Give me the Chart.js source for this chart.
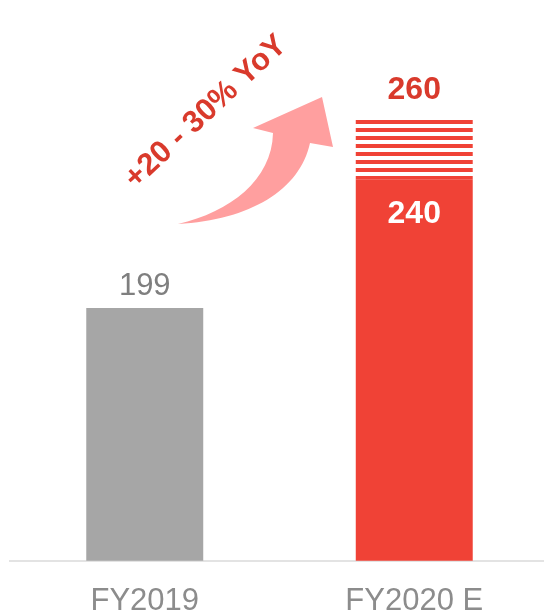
<!DOCTYPE html>
<html>
<head>
<meta charset="utf-8">
<script src="https://cdn.jsdelivr.net/npm/chart.js@4"></script>
<style>
    html, body { margin: 0; padding: 0; background: #fff; overflow: hidden; }
</style>
</head>
<body>
<canvas id="fy_chart" width="549" height="643"></canvas>
<script>
// data
var categories = ["FY2019", "FY2020 E"];
var baseValues = [199, 240];     // solid part of the bar
var upsideValues = [null, 20];   // striped part, 240 -> 260
var growthText = "+20 - 30% YoY";

Chart.defaults.font.family = "'Liberation Sans', Arial, sans-serif";

function stripePattern(color) {
    var tile = document.createElement("canvas");
    tile.width = 8;
    tile.height = 8;
    var tctx = tile.getContext("2d");
    tctx.fillStyle = color;
    tctx.fillRect(0, 0, 8, 4);
    return tctx.createPattern(tile, "repeat");
}

// growth arrow + rotated text
var arrowPlugin = {
    id: "growthArrow",
    beforeDatasetsDraw: function(chart) {
        var ctx = chart.ctx;
        var ox = chart.chartArea.left - 10;
        var oy = chart.chartArea.top - 30;
        ctx.save();
        ctx.translate(ox, oy);
        ctx.fillStyle = "#ff9f9f";
        ctx.beginPath();
        ctx.moveTo(178, 224);
        ctx.bezierCurveTo(230, 212, 272, 180, 273, 133);
        ctx.lineTo(253, 128);
        ctx.lineTo(322, 97);
        ctx.lineTo(333, 147);
        ctx.lineTo(310, 143);
        ctx.bezierCurveTo(300, 190, 250, 220, 178, 224);
        ctx.closePath();
        ctx.fill();

        ctx.translate(206, 112);
        ctx.rotate(-43 * Math.PI / 180);
        ctx.font = "bold 31px 'Liberation Sans', Arial, sans-serif";
        ctx.fillStyle = "#d93a2c";
        ctx.textAlign = "center";
        ctx.textBaseline = "middle";
        ctx.fillText(growthText, 0, 0);
        ctx.restore();
    }
};

// value labels on the bars
var labelPlugin = {
    id: "barLabels",
    afterDatasetsDraw: function(chart) {
        var ctx = chart.ctx;
        var solid = chart.getDatasetMeta(0).data;
        var upper = chart.getDatasetMeta(1).data;
        ctx.save();
        ctx.textAlign = "center";
        ctx.textBaseline = "alphabetic";

        ctx.font = "31px 'Liberation Sans', Arial, sans-serif";
        ctx.fillStyle = "#7f7f7f";
        ctx.fillText(String(baseValues[0]), solid[0].x, solid[0].y - 13);

        ctx.font = "bold 32px 'Liberation Sans', Arial, sans-serif";
        ctx.fillStyle = "#ffffff";
        ctx.fillText(String(baseValues[1]), solid[1].x, solid[1].y + 43);

        ctx.fillStyle = "#d93a2c";
        ctx.fillText(String(baseValues[1] + upsideValues[1]), upper[1].x, upper[1].y - 18);
        ctx.restore();
    }
};

new Chart("fy_chart", {
    type: "bar",
    data: {
        labels: categories,
        datasets: [{
                data: baseValues,
                backgroundColor: ["#a6a6a6", "#f04236"],
                borderWidth: 0,
                barPercentage: 0.434,
                categoryPercentage: 1.0,
            },
            {
                data: upsideValues,
                backgroundColor: stripePattern("#f04236"),
                borderWidth: 0,
                barPercentage: 0.434,
                categoryPercentage: 1.0,
            }
        ]
    },
    options: {
        responsive: false,
        animation: false,
        layout: {
            padding: { left: 10, right: 0, top: 30, bottom: 1 }
        },
        plugins: {
            legend: { display: false },
            tooltip: { enabled: false }
        },
        scales: {
            x: {
                stacked: true,
                grid: { display: false, drawTicks: false },
                border: { color: "#e3e3e3", width: 2 },
                ticks: {
                    color: "#8c8c8c",
                    font: { size: 31 },
                    padding: 22
                }
            },
            y: {
                stacked: true,
                display: false,
                min: 118,
                max: 288
            }
        }
    },
    plugins: [arrowPlugin, labelPlugin]
});
</script>
</body>
</html>
